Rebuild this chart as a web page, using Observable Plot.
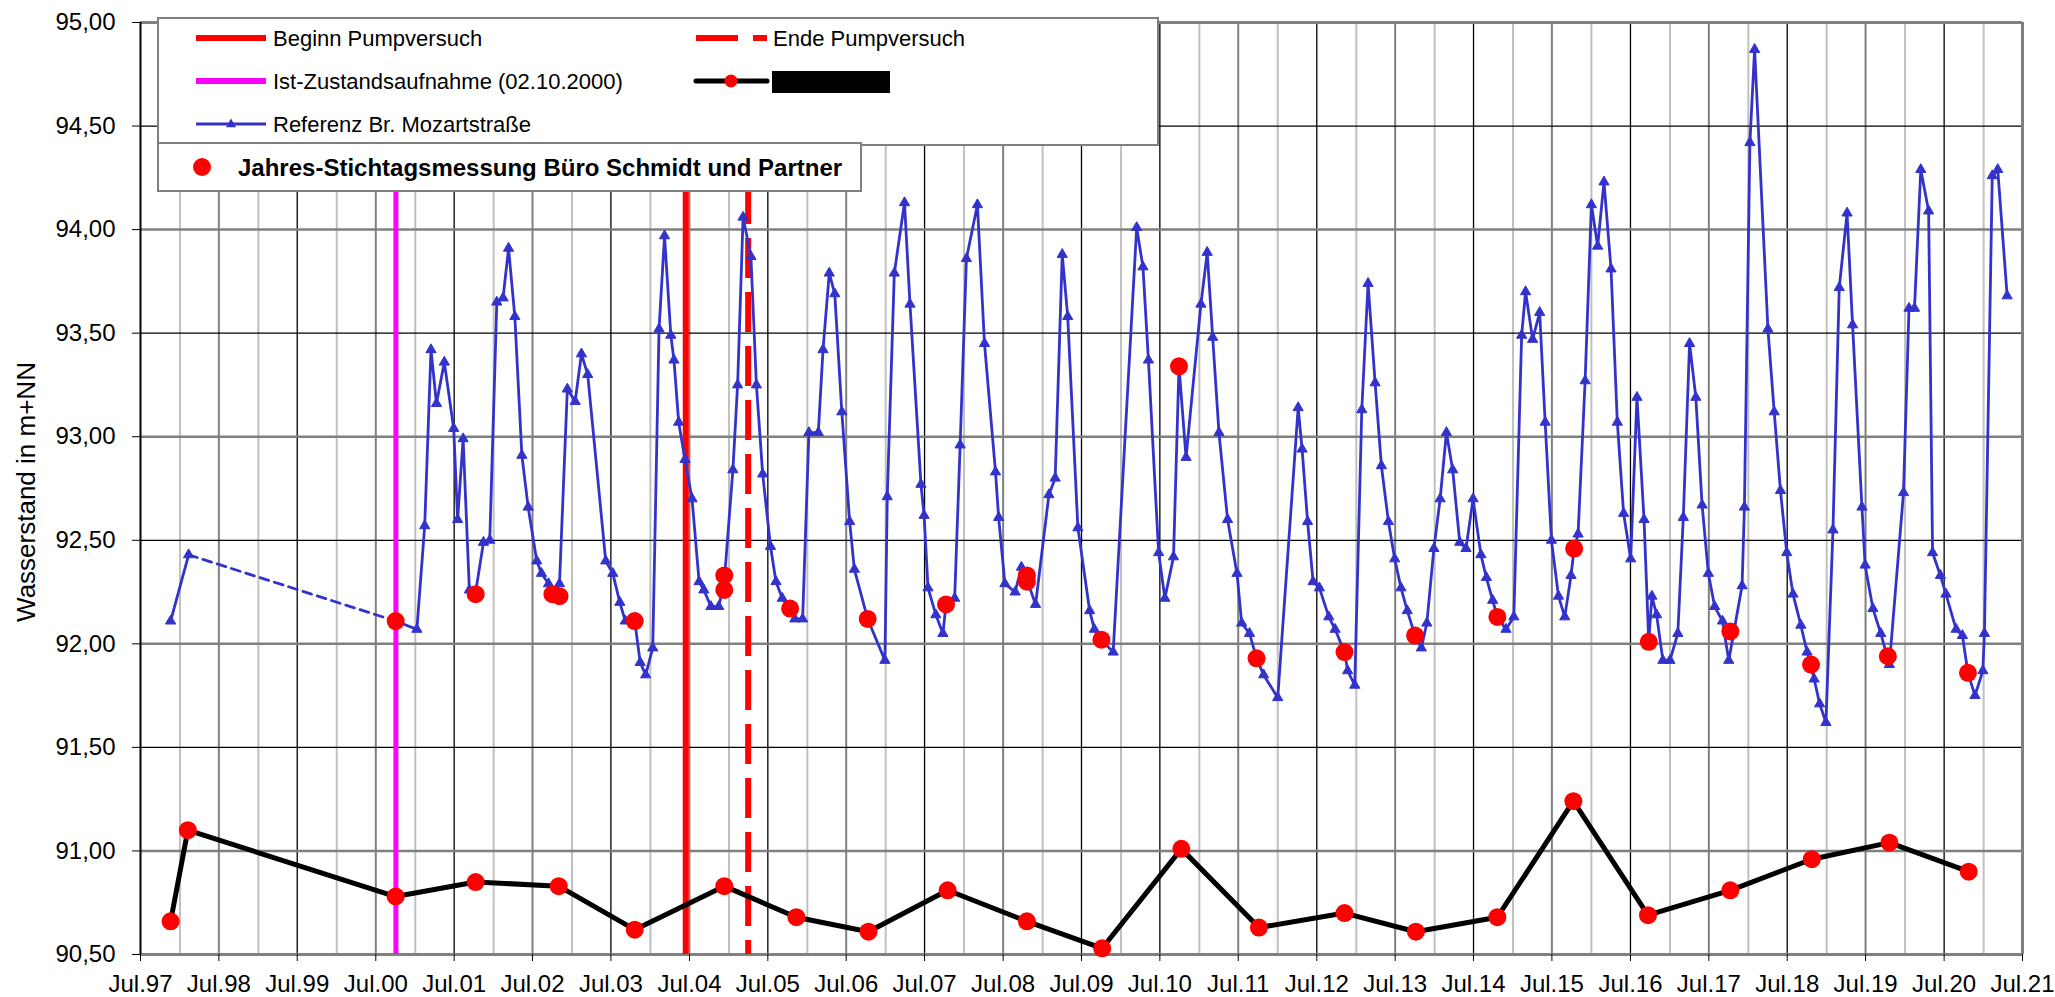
<!DOCTYPE html>
<html>
<head>
<meta charset="utf-8">
<script src="https://cdn.jsdelivr.net/npm/d3@7"></script>
<script src="https://cdn.jsdelivr.net/npm/@observablehq/plot@0.6"></script>
<style>
  html, body { margin: 0; padding: 0; background: #fff; }
  #wrap { position: relative; width: 2055px; height: 997px; }
  #overlay { position: absolute; left: 0; top: 0; pointer-events: none; }
</style>
</head>
<body>
<div id="wrap"></div>
<script>
// ---------------- DATA ----------------
// Referenz Br. Mozartstraße (decimal years, m+NN)
const refT = [1997.88, 1998.11,
  2000.75, 2001.02, 2001.12, 2001.20, 2001.27, 2001.37, 2001.49, 2001.54, 2001.61, 2001.69, 2001.77, 2001.87, 2001.95,
  2002.04, 2002.12, 2002.19, 2002.27, 2002.36, 2002.44, 2002.55, 2002.61, 2002.70, 2002.78, 2002.84, 2002.94,
  2003.04, 2003.12, 2003.20, 2003.43, 2003.52, 2003.61, 2003.68, 2003.80, 2003.87, 2003.94,
  2004.03, 2004.11, 2004.18, 2004.26, 2004.30, 2004.36, 2004.44, 2004.53, 2004.62, 2004.68, 2004.77, 2004.87, 2004.94,
  2005.05, 2005.11, 2005.18, 2005.28, 2005.35, 2005.43, 2005.53, 2005.60, 2005.68, 2005.78, 2005.84, 2005.94,
  2006.02, 2006.14, 2006.20, 2006.28, 2006.35, 2006.44, 2006.54, 2006.60, 2006.77, 2006.99,
  2007.02, 2007.11, 2007.24, 2007.31, 2007.45, 2007.49, 2007.54, 2007.64, 2007.73, 2007.77, 2007.88, 2007.95,
  2008.03, 2008.17, 2008.26, 2008.40, 2008.44, 2008.52, 2008.65, 2008.73, 2008.80, 2008.91,
  2009.08, 2009.16, 2009.25, 2009.32, 2009.45, 2009.60, 2009.66, 2009.75, 2009.90,
  2010.20, 2010.28, 2010.35, 2010.48, 2010.56, 2010.67, 2010.74, 2010.83,
  2011.02, 2011.10, 2011.17, 2011.25, 2011.36, 2011.48, 2011.54, 2011.64, 2011.73, 2011.82,
  2012.00, 2012.26, 2012.31, 2012.38, 2012.45, 2012.53, 2012.65, 2012.73, 2012.85, 2012.89, 2012.98,
  2013.07, 2013.15, 2013.24, 2013.32, 2013.41, 2013.49, 2013.57, 2013.65, 2013.75, 2013.83, 2013.90, 2013.99,
  2014.07, 2014.15, 2014.23, 2014.32, 2014.40, 2014.49, 2014.59, 2014.66, 2014.74, 2014.80, 2014.91,
  2015.01, 2015.11, 2015.16, 2015.25, 2015.34, 2015.41, 2015.49, 2015.58, 2015.66, 2015.74, 2015.78, 2015.83, 2015.92,
  2016.00, 2016.08, 2016.16, 2016.25, 2016.33, 2016.41, 2016.50, 2016.58, 2016.67, 2016.73, 2016.77, 2016.83, 2016.91,
  2017.00, 2017.10, 2017.17, 2017.25, 2017.33, 2017.41, 2017.49, 2017.57, 2017.67, 2017.75, 2017.92, 2017.95,
  2018.02, 2018.08, 2018.25, 2018.33, 2018.41, 2018.49, 2018.57, 2018.67, 2018.75, 2018.84, 2018.91, 2018.99,
  2019.08, 2019.16, 2019.26, 2019.33, 2019.45, 2019.49, 2019.59, 2019.69, 2019.80, 2019.98,
  2020.05, 2020.12, 2020.20, 2020.30, 2020.35, 2020.45, 2020.52, 2020.65, 2020.73, 2020.80, 2020.89, 2020.99,
  2021.01, 2021.11, 2021.18, 2021.30];
const refV = [92.11, 92.43,
  92.11, 92.07, 92.57, 93.42, 93.16, 93.36, 93.04, 92.60, 92.99, 92.26, 92.25, 92.49, 92.50,
  93.65, 93.67, 93.91, 93.58, 92.91, 92.66, 92.40, 92.34, 92.29, 92.25, 92.29, 93.23,
  93.17, 93.40, 93.30, 92.40, 92.34, 92.20, 92.11, 92.11, 91.91, 91.85,
  91.98, 93.52, 93.97, 93.49, 93.37, 93.07, 92.89, 92.70, 92.30, 92.26, 92.18, 92.18, 92.30,
  92.84, 93.25, 94.06, 93.87, 93.25, 92.82, 92.47, 92.30, 92.22, 92.17, 92.12, 92.12,
  93.02, 93.02, 93.42, 93.79, 93.69, 93.12, 92.59, 92.36, 92.12, 91.92,
  92.71, 93.79, 94.13, 93.64, 92.77, 92.62, 92.27, 92.14, 92.05, 92.19, 92.22, 92.96,
  93.86, 94.12, 93.45, 92.83, 92.61, 92.29, 92.25, 92.37, 92.31, 92.19,
  92.72, 92.80, 93.88, 93.58, 92.56, 92.16, 92.07, 92.02, 91.96,
  94.01, 93.82, 93.37, 92.44, 92.22, 92.42, 93.34, 92.90,
  93.64, 93.89, 93.48, 93.02, 92.60, 92.34, 92.10, 92.05, 91.93, 91.85,
  91.74, 93.14, 92.94, 92.59, 92.30, 92.27, 92.13, 92.07, 91.96, 91.87, 91.80,
  93.13, 93.74, 93.26, 92.86, 92.59, 92.41, 92.27, 92.16, 92.04, 91.98, 92.10, 92.46,
  92.70, 93.02, 92.84, 92.49, 92.46, 92.70, 92.43, 92.32, 92.21, 92.13, 92.07,
  92.13, 93.49, 93.70, 93.47, 93.60, 93.07, 92.50, 92.23, 92.13, 92.33, 92.46, 92.53, 93.27,
  94.12, 93.92, 94.23, 93.81, 93.07, 92.63, 92.41, 93.19, 92.60, 92.01, 92.23, 92.14, 91.92,
  91.92, 92.05, 92.61, 93.45, 93.19, 92.67, 92.34, 92.18, 92.11, 91.92, 92.28, 92.66,
  94.42, 94.87, 93.52, 93.12, 92.74, 92.44, 92.24, 92.09, 91.96, 91.83, 91.71, 91.62,
  92.55, 93.72, 94.08, 93.54, 92.66, 92.38, 92.17, 92.05, 91.90, 92.73,
  93.62, 93.62, 94.29, 94.09, 92.44, 92.33, 92.24, 92.07, 92.04, 91.86, 91.75, 91.87,
  92.05, 94.26, 94.29, 93.68];
const refGapAfter = 1; // the reference series is interrupted after this index (drawn dashed)

// Jahres-Stichtagsmessung Büro Schmidt und Partner (red dots on the reference line)
const stichT = [2000.75, 2001.77, 2002.75, 2002.84, 2003.80, 2004.94, 2004.94, 2005.78, 2006.77, 2007.77, 2008.80, 2008.80,
  2009.75, 2010.74, 2011.73, 2012.85, 2013.75, 2014.80, 2015.78, 2016.73, 2017.77, 2018.80, 2019.78, 2020.80];
const stichV = [92.11, 92.24, 92.24, 92.23, 92.11, 92.33, 92.26, 92.17, 92.12, 92.19, 92.33, 92.30,
  92.02, 93.34, 91.93, 91.96, 92.04, 92.13, 92.46, 92.01, 92.06, 91.90, 91.94, 91.86];

// Redacted measuring point (black line, red markers)
const wellT = [1997.88, 1998.10, 2000.75, 2001.77, 2002.83, 2003.80, 2004.94, 2005.86, 2006.78, 2007.79, 2008.80,
  2009.76, 2010.77, 2011.76, 2012.85, 2013.76, 2014.80, 2015.77, 2016.72, 2017.77, 2018.81, 2019.80, 2020.81];
const wellV = [90.66, 91.10, 90.78, 90.85, 90.83, 90.62, 90.83, 90.68, 90.61, 90.81, 90.66,
  90.53, 91.01, 90.63, 90.70, 90.61, 90.68, 91.24, 90.69, 90.81, 90.96, 91.04, 90.90];

// Event lines
const eventLabels = ["Beginn Pumpversuch", "Ende Pumpversuch", "Ist-Zustandsaufnahme (02.10.2000)"];
const eventT = [2004.45, 2005.245, 2000.753];

// Axes
const xTickLabels = ["Jul.97","Jul.98","Jul.99","Jul.00","Jul.01","Jul.02","Jul.03","Jul.04","Jul.05","Jul.06","Jul.07","Jul.08",
  "Jul.09","Jul.10","Jul.11","Jul.12","Jul.13","Jul.14","Jul.15","Jul.16","Jul.17","Jul.18","Jul.19","Jul.20","Jul.21"];
const yTicks = [90.5, 91.0, 91.5, 92.0, 92.5, 93.0, 93.5, 94.0, 94.5, 95.0];
const grayJulyYears = [1998, 2000, 2002, 2004, 2006, 2008, 2011, 2013, 2015, 2017, 2019];
const yTitle = "Wasserstand in m+NN";
const legendRef = "Referenz Br. Mozartstraße";
const legendStich = "Jahres-Stichtagsmessung Büro Schmidt und Partner";

// ---------------- BUILD ----------------
const toDate = t => {
  const y = Math.floor(t), s = Date.UTC(y, 0, 1), e = Date.UTC(y + 1, 0, 1);
  return new Date(s + (t - y) * (e - s));
};
const labelYear = s => { const yy = +s.slice(4); return yy > 50 ? 1900 + yy : 2000 + yy; };
const julDates = xTickLabels.map(s => new Date(Date.UTC(labelYear(s), 6, 1)));
const janDates = xTickLabels.slice(1).map(s => new Date(Date.UTC(labelYear(s), 0, 1)));
const innerJul = julDates.slice(1, -1);
const julGray = innerJul.filter(d => grayJulyYears.includes(d.getUTCFullYear()));
const julBlack = innerJul.filter(d => !grayJulyYears.includes(d.getUTCFullYear()));

const ref = refT.map((t, i) => ({date: toDate(t), v: refV[i], seg: i <= refGapAfter ? 0 : 1}));
const refGap = ref.slice(refGapAfter, refGapAfter + 2);
const stich = stichT.map((t, i) => ({date: toDate(t), v: stichV[i]}));
const well = wellT.map((t, i) => ({date: toDate(t), v: wellV[i]}));
const ev = eventT.map(toDate);

const BLUE = "#3333cc", RED = "#ff0000", MAG = "#ff00ff", GRAY = "#808080";
const FONT = "'Liberation Sans', Arial, Helvetica, sans-serif";

const chart = Plot.plot({
  width: 2055,
  height: 997,
  marginLeft: 140,
  marginRight: 33,
  marginTop: 22,
  marginBottom: 43,
  x: {type: "utc", domain: [julDates[0], julDates[julDates.length - 1]]},
  y: {domain: [yTicks[0], yTicks[yTicks.length - 1]]},
  style: {fontFamily: FONT, color: "#000", background: "#fff", overflow: "visible"},
  marks: [
    // grid
    Plot.ruleX(janDates, {stroke: "#c0c0c0", strokeWidth: 2}),
    Plot.ruleX(julGray, {stroke: GRAY, strokeWidth: 2}),
    Plot.ruleX(julBlack, {stroke: "#000", strokeWidth: 1.3}),
    Plot.ruleY(yTicks.filter(v => v % 1 !== 0), {stroke: "#000", strokeWidth: 1.3}),
    Plot.ruleY(yTicks.filter(v => v % 1 === 0), {stroke: GRAY, strokeWidth: 2.5}),
    // frame
    Plot.ruleY([yTicks[yTicks.length - 1]], {stroke: GRAY, strokeWidth: 3}),
    Plot.ruleX([julDates[julDates.length - 1]], {stroke: GRAY, strokeWidth: 3}),
    Plot.ruleY([yTicks[0]], {stroke: GRAY, strokeWidth: 3}),
    Plot.ruleX([julDates[0]], {stroke: "#000", strokeWidth: 2}),
    // event lines
    Plot.ruleX([ev[2]], {stroke: MAG, strokeWidth: 5}),
    Plot.ruleX([ev[0]], {stroke: RED, strokeWidth: 6}),
    Plot.ruleX([ev[1]], {stroke: RED, strokeWidth: 6, strokeDasharray: "40,14"}),
    // reference well
    Plot.line(refGap, {x: "date", y: "v", stroke: BLUE, strokeWidth: 2.8, strokeDasharray: "9,6"}),
    Plot.line(ref, {x: "date", y: "v", z: "seg", stroke: BLUE, strokeWidth: 2.8, strokeLinejoin: "miter"}),
    Plot.dot(ref, {x: "date", y: "v", symbol: "triangle", r: 3.8, fill: BLUE, stroke: BLUE, strokeWidth: 1}),
    // redacted well
    Plot.line(well, {x: "date", y: "v", stroke: "#000", strokeWidth: 5}),
    Plot.dot(well, {x: "date", y: "v", r: 9, fill: RED}),
    // yearly measurements
    Plot.dot(stich, {x: "date", y: "v", r: 9, fill: RED}),
    // axes
    Plot.axisX({ticks: julDates, tickFormat: (d, i) => xTickLabels[julDates.findIndex(j => +j === +d)],
      tickSize: 7, tickPadding: 13, fontSize: 24, label: null, stroke: "#000"}),
    Plot.axisY({ticks: yTicks, tickFormat: v => v.toFixed(2).replace(".", ","),
      tickSize: 8, tickPadding: 17, fontSize: 24, label: null, stroke: "#000"})
  ]
});
document.getElementById("wrap").appendChild(chart);

// ---------------- LEGEND + Y TITLE (overlay) ----------------
const F = `font-family="${FONT.replace(/'/g, "")}"`;
const tri = (cx, cy, s) => `${cx},${cy - s} ${cx - s * 0.9},${cy + s * 0.6} ${cx + s * 0.9},${cy + s * 0.6}`;
const overlay = `
<svg id="overlay" width="2055" height="997" xmlns="http://www.w3.org/2000/svg" ${F}>
  <text transform="translate(35,492) rotate(-90)" text-anchor="middle" font-size="26" fill="#000">${yTitle}</text>
  <rect x="158" y="18" width="1000" height="127" fill="#fff" stroke="${GRAY}" stroke-width="2"/>
  <line x1="196" x2="266" y1="38" y2="38" stroke="${RED}" stroke-width="6"/>
  <text x="273" y="46" font-size="22" fill="#000">${eventLabels[0]}</text>
  <line x1="696" x2="767" y1="38" y2="38" stroke="${RED}" stroke-width="6" stroke-dasharray="42,15"/>
  <text x="773" y="46" font-size="22" fill="#000">${eventLabels[1]}</text>
  <line x1="196" x2="266" y1="81" y2="81" stroke="${MAG}" stroke-width="6"/>
  <text x="273" y="89" font-size="22" fill="#000">${eventLabels[2]}</text>
  <line x1="696" x2="767" y1="81" y2="81" stroke="#000" stroke-width="5" stroke-linecap="round"/>
  <circle cx="731" cy="81" r="6.5" fill="${RED}"/>
  <rect x="772" y="71" width="118" height="22" fill="#000"/>
  <line x1="196" x2="266" y1="124" y2="124" stroke="${BLUE}" stroke-width="2.8"/>
  <polygon points="${tri(231, 124, 5.5)}" fill="${BLUE}"/>
  <text x="273" y="132" font-size="22" fill="#000">${legendRef}</text>
  <rect x="158" y="143" width="703" height="48" fill="#fff" stroke="${GRAY}" stroke-width="2"/>
  <circle cx="202" cy="167" r="9" fill="${RED}"/>
  <text x="238" y="176" font-size="24" font-weight="bold" fill="#000">${legendStich}</text>
</svg>`;
document.getElementById("wrap").insertAdjacentHTML("beforeend", overlay);
</script>
</body>
</html>
